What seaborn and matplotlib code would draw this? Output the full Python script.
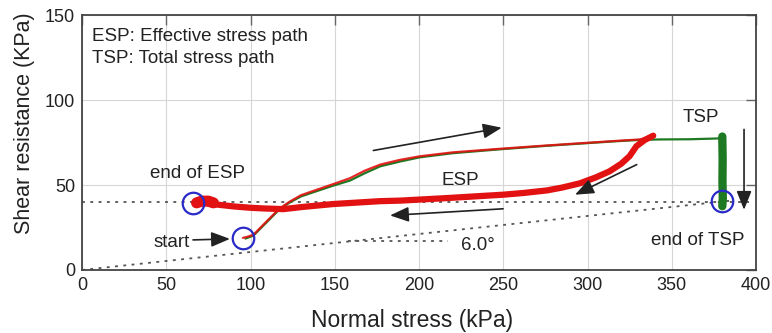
import matplotlib
matplotlib.use("Agg")
import matplotlib.pyplot as plt
import seaborn as sns

# ---------------- data ----------------
esp_load_x = [95.5, 98, 101.7, 106, 112, 117, 123.4, 130, 139.3, 149, 159, 168, 177, 188.7, 200.6, 220, 248, 275, 299.5, 318, 331, 339]
esp_load_y = [18.9, 19.5, 20.7, 25, 31, 36, 40.3, 44, 47.2, 50.5, 54.0, 58.5, 62.0, 64.8, 66.9, 69.2, 71.3, 73.2, 74.8, 76, 76.8, 78.8]

tsp_load_x = [97, 101.7, 106, 112, 117, 123.4, 130, 139.3, 149, 159, 168, 177, 188.7, 200.6, 220, 248, 275, 299.5, 318, 331, 343, 360, 375, 380]
tsp_load_y = [18.5, 20.2, 24.5, 30.5, 35.5, 39.8, 43.3, 46.4, 49.6, 52.6, 57.0, 61.0, 63.8, 66.3, 68.7, 71.0, 73.0, 74.6, 75.8, 76.5, 76.8, 76.9, 77.3, 77.5]

tsp_drop_x = [380, 380.2, 380.1, 380.3, 380.0]
tsp_drop_y = [78.5, 65, 52, 42, 37.5]

esp_unload_x = [339, 334, 329, 325, 320, 313, 305, 295.5, 285, 275.8, 262, 250, 216.4, 188.7, 177, 149, 130, 119.5, 108, 100, 90, 80, 74, 68]
esp_unload_y = [79, 76.5, 72.8, 67, 62.5, 58, 54.5, 51, 48.5, 46.8, 45.3, 44.3, 42.3, 40.8, 40.5, 38.8, 37, 35.8, 36.2, 36.6, 37.4, 38.5, 40, 39.6]

esp_end_blob_x = [68, 71, 75, 78]
esp_end_blob_y = [39.5, 40.5, 40.5, 39.5]

envelope_x = [0, 396]
envelope_y = [40, 40]
tsp_line_x = [0, 386]
tsp_line_y = [0, 40.9]
angle_ref_x = [158, 217]
angle_ref_y = [17.2, 17.2]

circle_x = [66, 95.7, 379.6]
circle_y = [39.7, 18.7, 40.3]

arrows = [  # (x_start, y_start, x_end, y_end)
    (172.9, 70.3, 249.1, 83.7),
    (329.2, 62.0, 292.6, 44.3),
    (249.9, 36.0, 182.8, 32.1),
    (392.9, 82.7, 392.9, 35.4),
    (65.9, 17.7, 87.8, 18.3),
]

labels = [  # (text, x, y)
    ("end of ESP", 68.8, 54.1),
    ("start", 53.2, 13.8),
    ("ESP", 224.3, 50.2),
    ("TSP", 367.2, 87.0),
    ("end of TSP", 365.2, 14.8),
    ("6.0°", 234.7, 11.8),
]
legend_lines = ["ESP: Effective stress path", "TSP: Total stress path"]

x_ticks = [0, 50, 100, 150, 200, 250, 300, 350, 400]
y_ticks = [0, 50, 100, 150]

# ---------------- style ----------------
sns.set_theme(style="white")
plt.rcParams['font.family'] = ['Liberation Sans', 'DejaVu Sans']

RED = "#e31212"
GREEN = "#1d7a22"
BLUE = "#2a2ac8"
DOT = "#555555"

fig = plt.figure(figsize=(7.72, 3.33), dpi=100)
ax = fig.add_axes([82/772, 1-270/333, (756-82)/772, (270-15)/333])

# dotted reference lines
for xs, ys in [(envelope_x, envelope_y), (tsp_line_x, tsp_line_y), (angle_ref_x, angle_ref_y)]:
    ax.plot(xs, ys, color=DOT, lw=1.3, dashes=(1.6, 3.0), zorder=2)

# paths
sns.lineplot(x=tsp_load_x, y=tsp_load_y, sort=False, estimator=None, ax=ax,
             color=GREEN, lw=1.6, zorder=3)
sns.lineplot(x=tsp_drop_x, y=tsp_drop_y, sort=False, estimator=None, ax=ax,
             color=GREEN, lw=6, zorder=3)
sns.lineplot(x=esp_load_x, y=esp_load_y, sort=False, estimator=None, ax=ax,
             color=RED, lw=1.6, alpha=0.9, zorder=4)
sns.lineplot(x=esp_unload_x, y=esp_unload_y, sort=False, estimator=None, ax=ax,
             color=RED, lw=4.5, zorder=4)
sns.lineplot(x=esp_end_blob_x, y=esp_end_blob_y, sort=False, estimator=None, ax=ax,
             color=RED, lw=8, zorder=4)

# circles
ax.plot(circle_x, circle_y, linestyle="none", marker="o", markersize=15.5,
        markerfacecolor="none", markeredgecolor=BLUE, markeredgewidth=1.6, zorder=5)

# arrows
for xs, ys, xe, ye in arrows:
    ax.annotate("", xy=(xe, ye), xytext=(xs, ys),
                arrowprops=dict(arrowstyle="-|>,head_length=0.95,head_width=0.38",
                                color="#222222", lw=1.2, shrinkA=0, shrinkB=0),
                zorder=6)

# labels
for t, x, y in labels:
    ax.text(x, y, t, ha="center", va="baseline", fontsize=13.5, color="#222222", zorder=7)

ax.text(5.9, 134.8, legend_lines[0], ha="left", va="baseline", fontsize=13.5, color="#222222")
ax.text(5.9, 122.0, legend_lines[1], ha="left", va="baseline", fontsize=13.5, color="#222222")

# axes
ax.set_xlim(0, 400)
ax.set_ylim(0, 150)
ax.set_xticks(x_ticks)
ax.set_yticks(y_ticks)
ax.grid(True, color="#d6d6d6", lw=0.8)
ax.set_axisbelow(True)
ax.tick_params(direction="in", length=7, width=1, color="#666666",
               top=True, right=True, labelsize=13, labelcolor="#222222", pad=5)
for s in ax.spines.values():
    s.set_color("#444444")
    s.set_linewidth(1.3)
ax.set_xlabel("")
ax.set_ylabel("")

fig.text(412/772, 1-320/333, "Normal stress (kPa)", ha="center", va="center",
         fontsize=16.5, color="#222222")
fig.text(25/772, 1-123/333, "Shear resistance (KPa)", ha="center", va="center",
         rotation=90, fontsize=15.5, color="#222222")

fig.savefig("out.png", dpi=100)
